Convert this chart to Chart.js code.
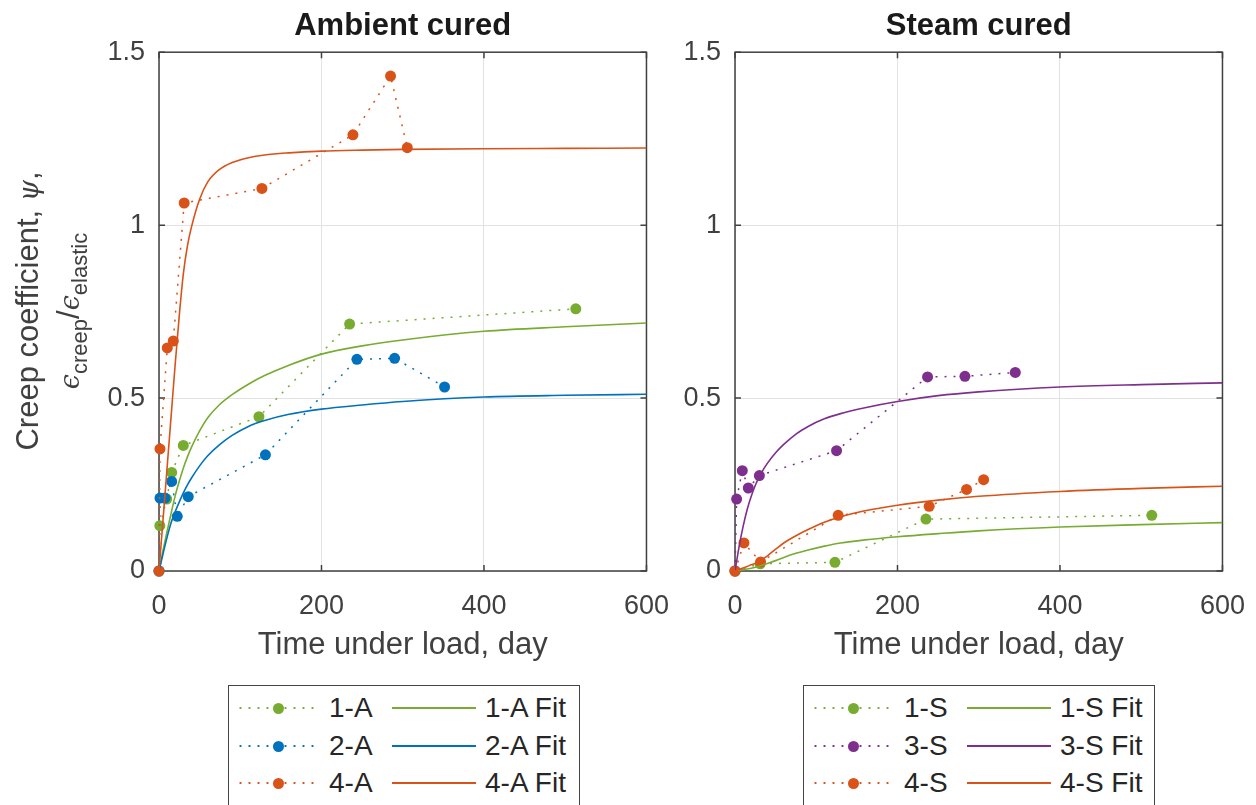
<!DOCTYPE html>
<html>
<head>
<meta charset="utf-8">
<script src="https://cdn.jsdelivr.net/npm/chart.js@4.4.0/dist/chart.umd.min.js"></script>
<style>
body { margin: 0; width: 1256px; height: 805px; overflow: hidden; position: relative; background: #fff;
  font-family: 'Liberation Sans', Arial, Helvetica, sans-serif; color: #404040; }
.panel { position: absolute; top: 0; width: 688px; height: 690px; }
.ylab { position: absolute; left: -208px; top: 263px; width: 520px; height: 96px; transform: rotate(-90deg);
  text-align: center; font-size: 31px; line-height: 48px; color: #404040; white-space: nowrap; }
.ylab .l2 { margin-top: -8px; }
.ylab i { font-family: 'DejaVu Serif', serif; font-size: 27px; }
.ylab sub { font-size: 22px; vertical-align: -8px; }
.legend { position: absolute; top: 685px; width: 352px; height: 140px; border: 1.5px solid #444;
  background: #fff; box-sizing: border-box; }
.item { position: absolute; height: 34px; display: flex; align-items: center; }
.sample { position: relative; width: 84px; height: 34px; margin-right: 9px; }
.sample .ln { position: absolute; left: 0; right: 0; top: 16px; height: 2px; }
.sample .dots { position: absolute; left: 0; right: 0; top: 16px; height: 2px; }
.sample .dot { position: absolute; left: 37px; top: 11.5px; width: 11px; height: 11px; border-radius: 50%; }
.item span { font-size: 28px; line-height: 34px; color: #262626; }
</style>
</head>
<body>
<div class="panel" style="left:0"><canvas id="chartA" width="688" height="690"></canvas></div>
<div class="panel" style="left:576px"><canvas id="chartS" width="688" height="690"></canvas></div>
<div class="ylab">
  <div>Creep coefficient, <i>ψ</i>,</div>
  <div class="l2"><i>ϵ</i><sub>creep</sub>/<i>ϵ</i><sub>elastic</sub></div>
</div>
<div class="legend" id="legendA" style="left:228px"></div>
<div class="legend" id="legendS" style="left:803px"></div>

<script>
// axis ticks
var xTicks = [0, 200, 400, 600];
var yTicks = [0, 0.5, 1, 1.5];

// Ambient cured - measured
var tA1 = [0, 1, 9.5, 15.6, 29.9, 123, 234.6, 513];
var psiA1 = [0, 0.131, 0.208, 0.285, 0.363, 0.446, 0.714, 0.758];
var tA2 = [0, 1.2, 7.4, 15.6, 22.5, 36, 131, 243.6, 290, 351.5];
var psiA2 = [0, 0.211, 0.211, 0.259, 0.158, 0.215, 0.336, 0.612, 0.615, 0.532];
var tA4 = [0, 1.2, 10.2, 17.6, 31, 126.7, 238.7, 285, 305.6];
var psiA4 = [0, 0.353, 0.645, 0.665, 1.064, 1.106, 1.261, 1.431, 1.224];

// Steam cured - measured
var tS1 = [0, 31, 123, 235, 513];
var psiS1 = [0, 0.021, 0.025, 0.15, 0.161];
var tS3 = [0, 2, 9, 16.4, 30, 125, 237, 283, 345];
var psiS3 = [0, 0.208, 0.29, 0.24, 0.276, 0.348, 0.561, 0.563, 0.574];
var tS4 = [0, 11, 31.5, 127, 239, 285, 306];
var psiS4 = [0, 0.081, 0.026, 0.161, 0.187, 0.236, 0.264];

// fitted curves, read at these times
var fitT = [0, 5, 10, 15, 20, 25, 30, 35, 40, 50, 60, 75, 90, 110, 130, 160, 200, 250, 300, 400, 500, 600];
var fitA1 = [0, 0.06, 0.115, 0.168, 0.218, 0.26, 0.298, 0.33, 0.358, 0.405, 0.443, 0.482, 0.51, 0.54, 0.565, 0.595, 0.627, 0.651, 0.668, 0.693, 0.706, 0.717];
var fitA2 = [0, 0.05, 0.098, 0.14, 0.172, 0.2, 0.226, 0.249, 0.269, 0.304, 0.333, 0.366, 0.392, 0.418, 0.435, 0.453, 0.468, 0.48, 0.49, 0.503, 0.508, 0.511];
var fitA4 = [0, 0.15, 0.30, 0.45, 0.60, 0.74, 0.86, 0.94, 0.995, 1.075, 1.125, 1.162, 1.181, 1.195, 1.203, 1.209, 1.214, 1.217, 1.219, 1.221, 1.222, 1.223];
var fitS1 = [0, 0.002, 0.004, 0.006, 0.008, 0.011, 0.014, 0.018, 0.022, 0.03, 0.039, 0.051, 0.061, 0.072, 0.081, 0.09, 0.099, 0.108, 0.116, 0.127, 0.134, 0.14];
var fitS3 = [0, 0.07, 0.129, 0.178, 0.216, 0.248, 0.273, 0.294, 0.312, 0.342, 0.366, 0.396, 0.418, 0.44, 0.455, 0.472, 0.49, 0.507, 0.518, 0.532, 0.539, 0.544];
var fitS4 = [0, 0.004, 0.009, 0.013, 0.018, 0.022, 0.028, 0.036, 0.044, 0.063, 0.081, 0.102, 0.12, 0.141, 0.157, 0.174, 0.19, 0.205, 0.216, 0.23, 0.239, 0.245];

var green = '#77AC30', blue = '#0072BD', orange = '#D95319', purple = '#7E2F8E';
var axisColor = '#404040';

var toPoints = function(t, v) {
	return t.map(function(x, i) { return { x: x, y: v[i] }; });
};

var measured = function(label, t, v, color) {
	return {
		label: label, data: toPoints(t, v), borderColor: color, backgroundColor: color,
		borderWidth: 1.5, borderDash: [2, 7], pointRadius: 5.5, pointHoverRadius: 5.5,
		pointBorderWidth: 0, showLine: true, clip: false, dotted: true
	};
};

var fitted = function(label, v, color) {
	return {
		label: label, data: toPoints(fitT, v), borderColor: color, backgroundColor: color,
		borderWidth: 1.6, pointRadius: 0, showLine: true, cubicInterpolationMode: 'monotone'
	};
};

// axes box with inward ticks, drawn under the data
var boxFrame = {
	id: 'boxFrame',
	beforeDatasetsDraw: function(chart) {
		var ctx = chart.ctx, a = chart.chartArea, x = chart.scales.x, y = chart.scales.y;
		ctx.save();
		ctx.strokeStyle = axisColor;
		ctx.lineWidth = 1.5;
		ctx.strokeRect(a.left, a.top, a.right - a.left, a.bottom - a.top);
		ctx.beginPath();
		xTicks.forEach(function(v) {
			var px = x.getPixelForValue(v);
			ctx.moveTo(px, a.bottom); ctx.lineTo(px, a.bottom - 6);
			ctx.moveTo(px, a.top); ctx.lineTo(px, a.top + 6);
		});
		yTicks.forEach(function(v) {
			var py = y.getPixelForValue(v);
			ctx.moveTo(a.left, py); ctx.lineTo(a.left + 6, py);
			ctx.moveTo(a.right, py); ctx.lineTo(a.right - 6, py);
		});
		ctx.stroke();
		ctx.restore();
	}
};

var makeChart = function(id, title, datasets) {
	datasets.forEach(function(ds, i) { ds.order = datasets.length - i; });
	return new Chart(document.getElementById(id), {
		type: 'scatter',
		data: { datasets: datasets },
		options: {
			responsive: false,
			animation: false,
			events: [],
			layout: { padding: { left: 0, right: 25, top: 0, bottom: 0 } },
			plugins: {
				legend: { display: false },
				tooltip: { enabled: false },
				title: {
					display: true, fullSize: false, text: title, color: '#1a1a1a',
					font: { family: "'Liberation Sans', Arial, sans-serif", size: 31, weight: 'bold' },
					padding: { top: 8, bottom: 7 }
				}
			},
			scales: {
				x: {
					type: 'linear', min: 0, max: 600,
					afterBuildTicks: function(s) { s.ticks = xTicks.map(function(v) { return { value: v }; }); },
					afterFit: function(s) { s.height = 119; },
					grid: { color: '#e2e2e2', lineWidth: 1, drawTicks: false },
					border: { display: false },
					ticks: { padding: 19, color: axisColor, maxRotation: 0,
						callback: function(v) { return String(v); },
						font: { family: "'Liberation Sans', Arial, sans-serif", size: 27 } },
					title: { display: true, text: 'Time under load, day', color: axisColor,
						font: { family: "'Liberation Sans', Arial, sans-serif", size: 31 },
						padding: { top: 0, bottom: 26.4 } }
				},
				y: {
					type: 'linear', min: 0, max: 1.5,
					afterBuildTicks: function(s) { s.ticks = yTicks.map(function(v) { return { value: v }; }); },
					afterFit: function(s) { s.width = 159; },
					grid: { color: '#e2e2e2', lineWidth: 1, drawTicks: false },
					border: { display: false },
					ticks: { padding: 14, color: axisColor,
						callback: function(v) { return String(v); },
						font: { family: "'Liberation Sans', Arial, sans-serif", size: 27 } }
				}
			}
		},
		plugins: [boxFrame]
	});
};

var buildLegend = function(el, datasets) {
	var n = datasets.length / 2;
	var rowTops = [5, 43, 80];
	datasets.forEach(function(ds, i) {
		var col = Math.floor(i / n), row = i % n;
		var item = document.createElement('div');
		item.className = 'item';
		item.style.left = (col ? 163 : 7) + 'px';
		item.style.top = rowTops[row] + 'px';
		var sample = document.createElement('div');
		sample.className = 'sample';
		if (ds.dotted) {
			sample.innerHTML = '<div class="dots"></div><div class="dot"></div>';
			sample.firstChild.style.background = 'radial-gradient(circle, ' + ds.borderColor + ' 0.9px, transparent 1.3px) 0 0 / 9px 2px repeat-x';
			sample.lastChild.style.background = ds.borderColor;
		} else {
			sample.innerHTML = '<div class="ln"></div>';
			sample.firstChild.style.background = ds.borderColor;
		}
		var text = document.createElement('span');
		text.textContent = ds.label;
		item.appendChild(sample);
		item.appendChild(text);
		el.appendChild(item);
	});
};

var ambient = [
	measured('1-A', tA1, psiA1, green),
	measured('2-A', tA2, psiA2, blue),
	measured('4-A', tA4, psiA4, orange),
	fitted('1-A Fit', fitA1, green),
	fitted('2-A Fit', fitA2, blue),
	fitted('4-A Fit', fitA4, orange)
];
var steam = [
	measured('1-S', tS1, psiS1, green),
	measured('3-S', tS3, psiS3, purple),
	measured('4-S', tS4, psiS4, orange),
	fitted('1-S Fit', fitS1, green),
	fitted('3-S Fit', fitS3, purple),
	fitted('4-S Fit', fitS4, orange)
];

makeChart('chartA', 'Ambient cured', ambient);
makeChart('chartS', 'Steam cured', steam);
buildLegend(document.getElementById('legendA'), ambient);
buildLegend(document.getElementById('legendS'), steam);
</script>
</body>
</html>
